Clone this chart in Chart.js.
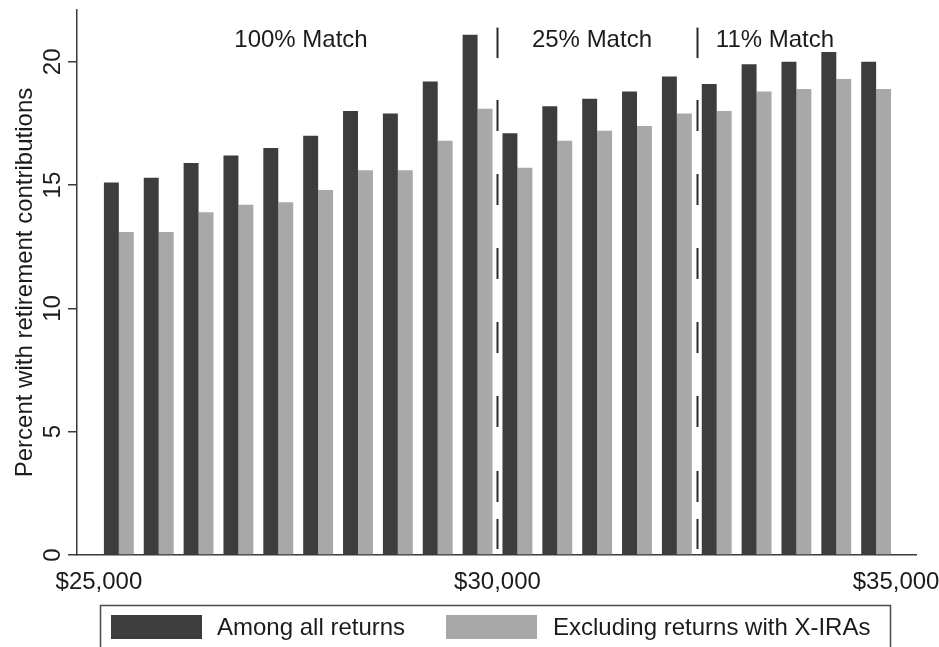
<!DOCTYPE html>
<html>
<head>
<meta charset="utf-8">
<script src="https://cdn.jsdelivr.net/npm/chart.js@4/dist/chart.umd.min.js"></script>
<style>
  html, body { margin: 0; padding: 0; background: #ffffff; }
  #wrap { width: 939px; height: 647px; }
</style>
</head>
<body>
<div id="wrap"><canvas id="c" width="939" height="647"></canvas></div>
<script>
// Income bins ($500 wide), labelled by their midpoint
const binMidpoints = [25250, 25750, 26250, 26750, 27250, 27750, 28250, 28750, 29250, 29750,
                      30250, 30750, 31250, 31750, 32250, 32750, 33250, 33750, 34250, 34750];
// Percent with retirement contributions
const amongAll = [15.1, 15.3, 15.9, 16.2, 16.5, 17.0, 18.0, 17.9, 19.2, 21.1,
                  17.1, 18.2, 18.5, 18.8, 19.4, 19.1, 19.9, 20.0, 20.4, 20.0];
const excludingXIRA = [13.1, 13.1, 13.9, 14.2, 14.3, 14.8, 15.6, 15.6, 16.8, 18.1,
                       15.7, 16.8, 17.2, 17.4, 17.9, 18.0, 18.8, 18.9, 19.3, 18.9];
const seriesNames = ['Among all returns', 'Excluding returns with X-IRAs'];
const xTickValues = [25000, 30000, 35000];
const yTickValues = [0, 5, 10, 15, 20];
// Saver's credit match-rate thresholds and region labels
const thresholds = [30000, 32500];
const regionLabels = ['100% Match', '25% Match', '11% Match'];
const regionLabelX = [27535, 31185, 33481];

const FONT = "'Liberation Sans', Arial, Helvetica, sans-serif";
const INK = '#1c1c1c';
const AXIS = '#3a3a3a';
const DARK = '#3d3d3d';
const LIGHT = '#a8a8a8';

const toPoints = vals => vals.map((v, i) => ({ x: binMidpoints[i], y: v }));

// Rotated y tick labels and axis title
const yLabelsPlugin = {
  id: 'yLabels',
  afterDraw(chart) {
    const { ctx, chartArea } = chart;
    const y = chart.scales.y;
    ctx.save();
    ctx.fillStyle = INK;
    ctx.font = '24px ' + FONT;
    ctx.textAlign = 'center';
    ctx.textBaseline = 'alphabetic';
    yTickValues.forEach(v => {
      const py = y.getPixelForValue(v);
      ctx.save();
      ctx.translate(60, py);
      ctx.rotate(-Math.PI / 2);
      ctx.fillText(String(v), 0, 0);
      ctx.restore();
    });
    ctx.save();
    ctx.translate(32, (chartArea.top + chartArea.bottom) / 2);
    ctx.rotate(-Math.PI / 2);
    ctx.fillText('Percent with retirement contributions', 0, 0);
    ctx.restore();
    ctx.restore();
  }
};

// Threshold lines and match-rate labels
const thresholdPlugin = {
  id: 'thresholds',
  afterDatasetsDraw(chart) {
    const { ctx } = chart;
    const x = chart.scales.x, y = chart.scales.y;
    ctx.save();
    ctx.strokeStyle = '#2a2a2a';
    ctx.lineWidth = 2;
    thresholds.forEach(t => {
      const px = Math.round(x.getPixelForValue(t)) + 0.5;
      // short solid tick beside the labels
      ctx.setLineDash([]);
      ctx.beginPath();
      ctx.moveTo(px, y.getPixelForValue(21.39));
      ctx.lineTo(px, y.getPixelForValue(20.15));
      ctx.stroke();
      // dashed line down to the axis
      ctx.setLineDash([31, 43, 31, 43, 31, 43, 31, 43, 31, 44, 31, 17, 30, 20]);
      ctx.beginPath();
      ctx.moveTo(px, y.getPixelForValue(18.45));
      ctx.lineTo(px, y.getPixelForValue(0.2));
      ctx.stroke();
    });
    ctx.setLineDash([]);
    ctx.fillStyle = INK;
    ctx.font = '24px ' + FONT;
    ctx.textAlign = 'center';
    ctx.textBaseline = 'alphabetic';
    regionLabels.forEach((t, i) => {
      ctx.fillText(t, x.getPixelForValue(regionLabelX[i]), y.getPixelForValue(20.58));
    });
    ctx.restore();
  }
};

// Boxed legend beneath the axis
const boxLegendPlugin = {
  id: 'boxLegend',
  afterDraw(chart) {
    const { ctx } = chart;
    const ds = chart.data.datasets;
    ctx.save();
    ctx.strokeStyle = '#4a4a4a';
    ctx.lineWidth = 1.5;
    ctx.strokeRect(100.5, 605.5, 790, 60);
    const swatchX = [111, 446];
    const textX = [217, 553];
    ctx.font = '24px ' + FONT;
    ctx.textAlign = 'left';
    ctx.textBaseline = 'middle';
    ds.forEach((d, i) => {
      ctx.fillStyle = d.backgroundColor;
      ctx.fillRect(swatchX[i], 615, 91, 24);
      ctx.fillStyle = INK;
      ctx.fillText(d.label, textX[i], 628);
    });
    ctx.restore();
  }
};

new Chart(document.getElementById('c'), {
  type: 'bar',
  data: {
    datasets: [
      { label: seriesNames[0], data: toPoints(amongAll), backgroundColor: DARK, borderWidth: 0 },
      { label: seriesNames[1], data: toPoints(excludingXIRA), backgroundColor: LIGHT, borderWidth: 0 }
    ]
  },
  plugins: [thresholdPlugin, yLabelsPlugin, boxLegendPlugin],
  options: {
    responsive: false,
    animation: false,
    devicePixelRatio: 1,
    layout: { padding: { top: 10, right: 23, left: 0, bottom: 0 } },
    datasets: { bar: { categoryPercentage: 0.75, barPercentage: 1.0 } },
    plugins: { legend: { display: false }, tooltip: { enabled: false } },
    scales: {
      x: {
        type: 'linear',
        min: 24725,
        max: 35250,
        offset: false,
        grid: { display: false, drawTicks: false },
        border: { display: true, color: AXIS, width: 1.5 },
        afterBuildTicks(scale) { scale.ticks = xTickValues.map(v => ({ value: v })); },
        afterFit(scale) {
          scale.height = 92;
          scale.paddingLeft = 0;
          scale.paddingRight = 0;
        },
        ticks: {
          color: INK,
          font: { family: FONT, size: 24 },
          padding: 13,
          maxRotation: 0,
          callback: v => '$' + Number(v).toLocaleString('en-US')
        }
      },
      y: {
        type: 'linear',
        min: 0,
        max: 22.1,
        grid: { display: true, drawOnChartArea: false, drawTicks: true, tickLength: 9, color: AXIS, lineWidth: 1.5 },
        border: { display: true, color: AXIS, width: 1.5 },
        afterBuildTicks(scale) { scale.ticks = yTickValues.map(v => ({ value: v })); },
        afterFit(scale) { scale.width = 77; scale.paddingTop = 0; scale.paddingBottom = 0; },
        ticks: { display: false }
      }
    }
  }
});
</script>
</body>
</html>
